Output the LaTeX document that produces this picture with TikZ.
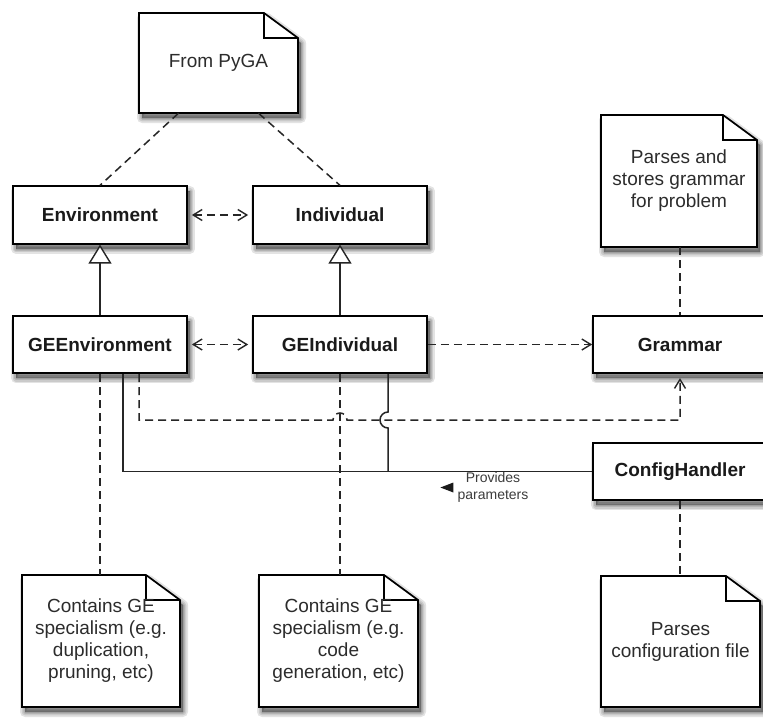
\documentclass[tikz,border=0pt]{standalone}
\usepackage{fontspec}
\setmainfont{Liberation Sans}
\usetikzlibrary{arrows.meta,calc,shadows}

\definecolor{ink}{HTML}{1A1A1A}
\definecolor{notetxt}{HTML}{2C2C2C}
\definecolor{wire}{HTML}{262626}
\definecolor{labeltxt}{HTML}{3C3C3C}

\tikzset{
  softlayer/.style={general shadow={shadow xshift=3pt, shadow yshift=-5pt,
      fill=black, draw=black, opacity=0.11, line width=#1, line join=round}},
  boxshadow/.style={softlayer=10pt, softlayer=6.5pt, softlayer=3.5pt, softlayer=0.5pt},
  classbox/.style={draw=black, line width=1.7pt, fill=white, boxshadow,
      minimum width=174pt, minimum height=57.5pt, inner sep=0pt,
      font=\fontsize{19}{22}\selectfont\bfseries, text=ink},
  notetext/.style={inner sep=0pt, align=center,
      font=\fontsize{19}{22}\selectfont, text=notetxt},
  noteline/.style={draw=black, line width=1.7pt, fill=white, line join=miter},
  wiredash/.style={draw=wire, line width=1.5pt, dash pattern=on 8pt off 5pt},
  wiresolid/.style={draw=wire, line width=1.5pt},
  barb/.tip={Straight Barb[length=9pt,width=11pt,line width=1.4pt]},
  hollowtri/.tip={Triangle[open,length=19pt,width=23pt,fill=white,line width=1.4pt]},
}

% A note with a folded corner: name, centre x, centre y, half width, half height, text
\newcommand\dognote[6]{%
  \draw[noteline, boxshadow] ($(#2,#3)+(-#4,-#5)$) -- ($(#2,#3)+(#4-34,-#5)$)
    -- ($(#2,#3)+(#4,-#5+25)$) -- ($(#2,#3)+(#4,#5)$) -- ($(#2,#3)+(-#4,#5)$) -- cycle;
  \draw[line width=1.4pt] ($(#2,#3)+(#4-34,-#5)$) |- ($(#2,#3)+(#4,-#5+25)$);
  \node[notetext, minimum width=2*#4 pt, minimum height=2*#5 pt] (#1) at (#2,#3) {#6};%
}

\begin{document}
\begin{tikzpicture}[x=1pt,y=-1pt]
  \fill[white] (0,0) rectangle (763,720);
  \useasboundingbox (0,0) rectangle (763,720);

  % notes
  \dognote{pyga}{218.5}{63}{79.5}{50}{From PyGA}
  \dognote{gnote}{679}{181}{78}{66}{Parses and\\stores grammar\\for problem}
  \dognote{envnote}{101}{641}{79}{66}{Contains GE\\specialism (e.g.\\duplication,\\pruning, etc)}
  \dognote{indnote}{338.5}{641}{79.5}{66}{Contains GE\\specialism (e.g.\\code\\generation, etc)}
  \dognote{cfgnote}{680.5}{641.5}{79.5}{65.5}{Parses\\configuration file}

  % classes
  \node[classbox] (env)     at (100,215)   {Environment};
  \node[classbox] (ind)     at (340,215)   {Individual};
  \node[classbox] (geenv)   at (100,344.5) {GEEnvironment};
  \node[classbox] (geind)   at (340,344.5) {GEIndividual};
  \node[classbox] (grammar) at (680,344.5) {Grammar};
  \node[classbox] (config)  at (680,471.5) {ConfigHandler};

  % routing points
  \coordinate (busDep) at (0,420);
  \coordinate (edx) at ($(geenv.south)+(39,0)$);
  \coordinate (ejx) at ($(geenv.south)+(23,0)$);
  \coordinate (ijx) at ($(geind.south)+(48,0)$);

  % origin of the base classes
  \draw[wiredash] ([xshift=-40pt]pyga.south) -- (env.north);
  \draw[wiredash] ([xshift=40pt]pyga.south) -- (ind.north);

  % associations
  \draw[wiredash, barb-barb, shorten <=4pt, shorten >=4pt] (env) -- (ind);
  \draw[wiredash, barb-barb, shorten <=4pt, shorten >=4pt] (geenv) -- (geind);
  \draw[wiredash, -barb] (geind) -- (grammar);

  % inheritance
  \draw[wiresolid, -hollowtri] (geenv) -- (env);
  \draw[wiresolid, -hollowtri] (geind) -- (ind);

  % GEEnvironment uses Grammar, hopping over the GEIndividual note line
  \draw[wiredash, -barb, shorten >=4pt] (edx) |- ($(geind.south |- busDep)+(-7,0)$)
    arc[start angle=180,end angle=0,radius=7pt] -- (grammar.south |- busDep) -- (grammar.south);

  % configuration lines
  \draw[wiresolid] (ejx) |- (config.west);
  \draw[wiresolid] (ijx) -- ($(ijx |- busDep)+(0,-8)$)
    arc[start angle=90,end angle=270,radius=8pt] -- (ijx |- config.west);

  \node[inner sep=0pt, align=center, font=\fontsize{14}{17}\selectfont, text=labeltxt]
    (prov) at (493,487.5) {Provides\\parameters};
  \fill[ink] ([xshift=-4pt,yshift=5pt]prov.west) -- ([xshift=-4pt,yshift=-5pt]prov.west)
    -- ([xshift=-17pt]prov.west) -- cycle;

  % notes attached to classes
  \draw[wiredash] (grammar.north |- gnote.south) -- (grammar.north);
  \draw[wiredash] (geenv.south) -- (geenv.south |- envnote.north);
  \draw[wiredash] (geind.south) -- (geind.south |- indnote.north);
  \draw[wiredash] (config.south) -- (config.south |- cfgnote.north);
\end{tikzpicture}
\end{document}
